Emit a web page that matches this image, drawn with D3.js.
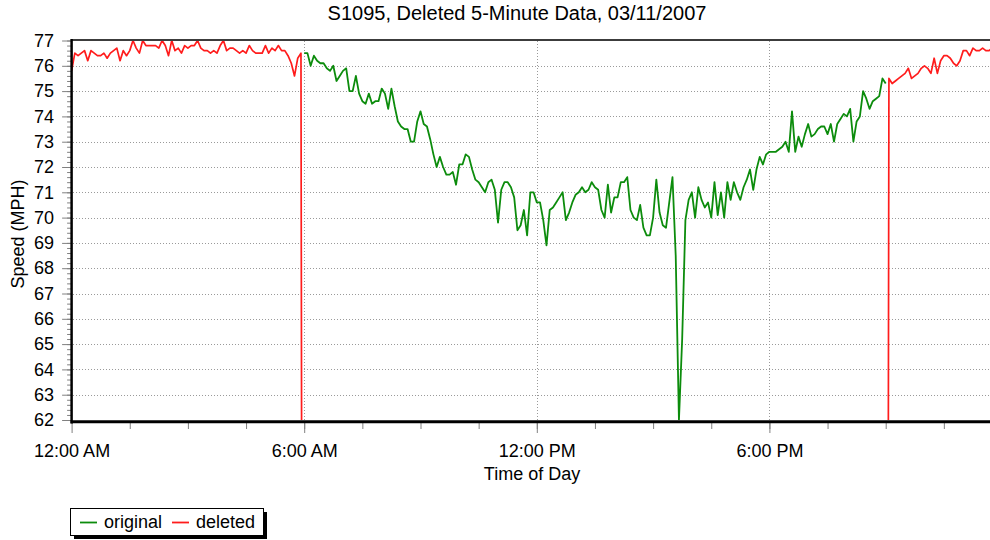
<!DOCTYPE html>
<html>
<head>
<meta charset="utf-8">
<title>S1095, Deleted 5-Minute Data</title>
<script src="https://d3js.org/d3.v7.min.js"></script>
<style>
  body { margin: 0; background: #fff; }
  svg { display: block; font-family: "Liberation Sans", Arial, sans-serif; }
  .grid line { stroke: #9a9a9a; stroke-width: 1; stroke-dasharray: 1,2; shape-rendering: crispEdges; }
  .axis .tick line { stroke: #808080; }
  .axis text { fill: #000; }
</style>
</head>
<body>
<svg></svg>
<script>
'use strict';

var title = 'S1095, Deleted 5-Minute Data, 03/11/2007';
var xTitle = 'Time of Day';
var yTitle = 'Speed (MPH)';
var seriesNames = ['original', 'deleted'];
var seriesColors = ['#0c8c0c', '#ff1c1c'];
var hourTicks = [0, 6, 12, 18];
var hourLabels = ['12:00 AM', '6:00 AM', '12:00 PM', '6:00 PM'];
var speedTicks = [62, 63, 64, 65, 66, 67, 68, 69, 70, 71, 72, 73, 74, 75, 76, 77];

// speeds every 5 minutes, each block starts at the 5-minute index given
// (deleted blocks fall to 0 where the original data takes over)
var deletedAmStart = 0;
var deletedAm = [
  75.8, 76.5, 76.4, 76.5, 76.6, 76.2, 76.6, 76.5, 76.4, 76.4,
  76.5, 76.3, 76.5, 76.6, 76.7, 76.2, 76.6, 76.4, 76.6, 77.0,
  76.7, 76.5, 77.0, 76.8, 76.8, 76.8, 76.8, 76.7, 77.0, 76.8,
  76.4, 77.0, 76.6, 76.7, 76.5, 76.8, 76.7, 76.8, 76.8, 77.0,
  76.7, 76.6, 76.6, 76.5, 76.6, 76.5, 76.8, 77.0, 76.6, 76.7,
  76.7, 76.6, 76.5, 76.6, 76.5, 76.8, 76.6, 76.5, 76.5, 76.5,
  76.8, 76.5, 76.7, 76.6, 76.8, 76.6, 76.6, 76.4, 76.1, 75.6,
  76.3, 76.5, 0
];

var originalStart = 72;
var original = [
  76.5, 76.5, 76.0, 76.4, 76.2, 76.1, 76.1, 75.9, 75.8, 76.0,
  75.4, 75.6, 75.8, 75.9, 75.0, 75.0, 75.6, 74.9, 74.6, 74.5,
  74.9, 74.5, 74.6, 74.6, 75.1, 74.9, 74.3, 75.1, 74.4, 73.8,
  73.6, 73.5, 73.5, 73.0, 73.0, 73.8, 74.2, 73.7, 73.6, 73.1,
  72.5, 72.0, 72.4, 72.0, 71.7, 71.7, 71.8, 71.3, 72.1, 72.1,
  72.5, 72.4, 71.9, 71.5, 71.4, 71.2, 71.0, 71.4, 71.5, 71.1,
  69.8, 71.1, 71.4, 71.4, 71.2, 70.8, 69.5, 69.7, 70.3, 69.3,
  71.0, 71.0, 70.6, 70.6, 69.9, 68.9, 70.3, 70.4, 70.6, 70.8,
  71.0, 69.9, 70.2, 70.6, 70.9, 71.0, 71.2, 71.0, 71.1, 71.4,
  71.2, 71.1, 70.3, 70.0, 71.3, 70.2, 70.8, 70.8, 71.4, 71.4,
  71.6, 70.3, 70.0, 69.9, 70.5, 69.6, 69.3, 69.3, 70.0, 71.5,
  70.2, 69.7, 69.6, 70.6, 71.6, 68.5, 62.0, 65.2, 69.9, 70.7,
  71.0, 70.0, 71.2, 70.7, 70.4, 70.6, 70.0, 71.4, 70.1, 71.0,
  70.0, 71.4, 70.7, 71.4, 71.0, 70.7, 71.2, 71.5, 71.9, 71.1,
  71.9, 72.4, 72.1, 72.5, 72.6, 72.6, 72.6, 72.7, 72.8, 73.0,
  72.6, 74.2, 72.6, 73.2, 72.8, 73.3, 73.7, 73.2, 73.3, 73.5,
  73.6, 73.6, 73.3, 73.7, 73.0, 73.7, 73.9, 74.1, 74.0, 74.3,
  73.0, 73.8, 74.0, 75.0, 74.7, 74.3, 74.6, 74.7, 74.8, 75.5,
  75.3
];

var deletedPmStart = 252;
var deletedPm = [
  0, 75.5, 75.3, 75.4, 75.5, 75.6, 75.7, 75.9, 75.5, 75.6,
  75.7, 75.9, 76.0, 75.9, 75.7, 76.3, 75.7, 76.2, 76.4, 76.4,
  76.3, 76.1, 76.0, 76.2, 76.6, 76.6, 76.4, 76.7, 76.6, 76.6,
  76.7, 76.6, 76.6, 76.7, 76.6, 76.6
];

var svgWidth = 990;
var svgHeight = 540;
var svg = d3.select('svg')
  .attr('width', svgWidth)
  .attr('height', svgHeight);

var plotLeft = 71.6;
var plotRight = 1002;
var plotTop = 40.5;
var plotBottom = 420;

var xScale = d3.scaleLinear().domain([0, 24]).range([plotLeft, plotRight]);
var yScale = d3.scaleLinear().domain([62, 77]).range([plotBottom, plotTop]);

function toPoints(start, values) {
  return values.map(function(v, k) {
    return { hour: (start + k) * 5 / 60, speed: v };
  });
}

// snap grid lines to whole pixels so the dots stay sharp
function snap(v) {
  return Math.round(v) + 0.5;
}

// grid lines
var grid = svg.append('g').attr('class', 'grid');
grid.selectAll('.hgrid')
  .data(speedTicks.slice(1, -1))
  .enter().append('line')
  .attr('x1', plotLeft + 1).attr('x2', svgWidth)
  .attr('y1', function(d) { return snap(yScale(d)); })
  .attr('y2', function(d) { return snap(yScale(d)); });
grid.selectAll('.vgrid')
  .data(hourTicks.slice(1))
  .enter().append('line')
  .attr('x1', function(d) { return snap(xScale(d)); })
  .attr('x2', function(d) { return snap(xScale(d)); })
  .attr('y1', plotTop).attr('y2', plotBottom);

// clip the series to the plot area
svg.append('clipPath').attr('id', 'plotClip')
  .append('rect')
  .attr('x', plotLeft).attr('y', plotTop - 2)
  .attr('width', plotRight - plotLeft).attr('height', plotBottom - plotTop + 2);

var line = d3.line()
  .x(function(d) { return xScale(d.hour); })
  .y(function(d) { return yScale(d.speed); });

var series = svg.append('g').attr('clip-path', 'url(#plotClip)');
[toPoints(deletedAmStart, deletedAm), toPoints(deletedPmStart, deletedPm)].forEach(function(pts) {
  series.append('path')
    .datum(pts)
    .attr('fill', 'none')
    .attr('stroke', seriesColors[1])
    .attr('stroke-width', 1.7)
    .attr('stroke-linejoin', 'round')
    .attr('d', line);
});
series.append('path')
  .datum(toPoints(originalStart, original))
  .attr('fill', 'none')
  .attr('stroke', seriesColors[0])
  .attr('stroke-width', 1.8)
  .attr('stroke-linejoin', 'round')
  .attr('d', line);

// y axis, major and minor ticks
var yMinor = svg.append('g')
  .attr('class', 'axis')
  .attr('transform', 'translate(' + plotLeft + ',0)')
  .call(d3.axisLeft(yScale).tickValues(d3.range(62, 77.01, 0.2)).tickSize(4.5).tickFormat(''));
yMinor.select('.domain').remove();

var yAxis = svg.append('g')
  .attr('class', 'axis')
  .attr('transform', 'translate(' + plotLeft + ',0)')
  .call(d3.axisLeft(yScale).tickValues(speedTicks).tickSize(9.5).tickPadding(8));
yAxis.select('.domain').remove();
yAxis.selectAll('text')
  .attr('font-size', 18)
  .attr('font-family', '"Liberation Sans", Arial, sans-serif');

// x axis, major and minor ticks
var axisY = 423;
var xMinor = svg.append('g')
  .attr('class', 'axis')
  .attr('transform', 'translate(0,' + axisY + ')')
  .call(d3.axisBottom(xScale).tickValues(d3.range(1.5, 24, 1.5)).tickSize(6).tickFormat(''));
xMinor.select('.domain').remove();

var xAxis = svg.append('g')
  .attr('class', 'axis')
  .attr('transform', 'translate(0,' + axisY + ')')
  .call(d3.axisBottom(xScale).tickValues(hourTicks)
    .tickFormat(function(d, i) { return hourLabels[i]; })
    .tickSize(10).tickPadding(11));
xAxis.select('.domain').remove();
xAxis.selectAll('text')
  .attr('font-size', 18)
  .attr('font-family', '"Liberation Sans", Arial, sans-serif');

// frame: thick left and bottom axis lines, grey top border
svg.append('line')
  .attr('x1', plotLeft).attr('x2', svgWidth)
  .attr('y1', plotTop - 0.5).attr('y2', plotTop - 0.5)
  .attr('stroke', '#3c3c3c').attr('stroke-width', 2);
svg.append('line')
  .attr('x1', plotLeft).attr('x2', plotLeft)
  .attr('y1', plotTop - 1.5).attr('y2', plotBottom + 3.5)
  .attr('stroke', '#000').attr('stroke-width', 2.5);
svg.append('line')
  .attr('x1', plotLeft - 1).attr('x2', svgWidth)
  .attr('y1', plotBottom + 1.8).attr('y2', plotBottom + 1.8)
  .attr('stroke', '#000').attr('stroke-width', 3);

// titles
svg.append('text')
  .attr('x', 517).attr('y', 20)
  .attr('text-anchor', 'middle')
  .attr('font-size', 20)
  .text(title);

svg.append('text')
  .attr('x', 532).attr('y', 480)
  .attr('text-anchor', 'middle')
  .attr('font-size', 18)
  .text(xTitle);

svg.append('text')
  .attr('transform', 'translate(24,234) rotate(-90)')
  .attr('text-anchor', 'middle')
  .attr('font-size', 18)
  .text(yTitle);

// legend with drop shadow
var legend = svg.append('g').attr('transform', 'translate(70,508)');
legend.append('rect')
  .attr('x', 4).attr('y', 4)
  .attr('width', 193).attr('height', 27)
  .attr('fill', '#000');
legend.append('rect')
  .attr('x', 0.5).attr('y', 0.5)
  .attr('width', 193).attr('height', 27)
  .attr('fill', '#fff')
  .attr('stroke', '#000');

var legendX = [10, 102];
var item = legend.selectAll('.item')
  .data(seriesNames)
  .enter().append('g')
  .attr('class', 'item')
  .attr('transform', function(d, i) { return 'translate(' + legendX[i] + ',0)'; });
item.append('line')
  .attr('x1', 0).attr('x2', 17)
  .attr('y1', 14.5).attr('y2', 14.5)
  .attr('stroke', function(d, i) { return seriesColors[i]; })
  .attr('stroke-width', 1.8);
item.append('text')
  .attr('x', 24).attr('y', 20)
  .attr('font-size', 18)
  .text(function(d) { return d; });
</script>
</body>
</html>
